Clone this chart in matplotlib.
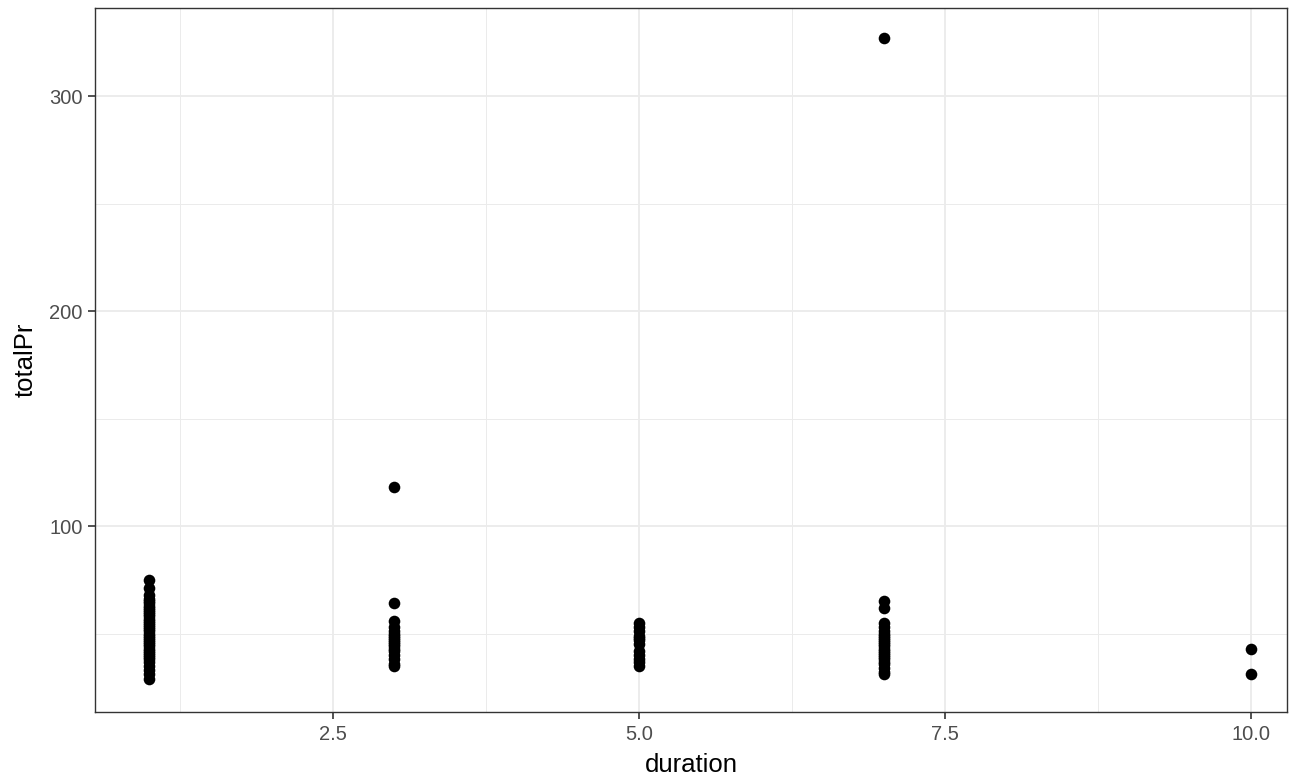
import matplotlib.pyplot as plt
from matplotlib.ticker import MultipleLocator

plt.rcParams['font.family'] = ['Liberation Sans', 'DejaVu Sans']

# totalPr values observed for each duration
dur1 = [75, 71, 68, 66, 65, 64, 63, 62, 61, 60, 59, 58, 57, 56, 55, 54, 53, 52,
        51, 50, 49, 48, 47, 46, 45, 44, 43, 42, 41, 40, 39, 38, 37, 35, 33, 31, 29]
dur3 = [118, 64, 56, 53, 51, 50, 49, 48, 47, 46, 45, 44, 43, 42, 40, 38, 36, 35]
dur5 = [55, 53, 51, 49, 48, 47, 45, 42, 40, 38, 37, 35]
dur7 = [327, 65, 62, 55, 53, 51, 50, 49, 48, 47, 46, 45, 44, 43, 42, 41, 40,
        39, 38, 37, 36, 34, 32, 31]
dur10 = [43, 31]

groups = {1: dur1, 3: dur3, 5: dur5, 7: dur7, 10: dur10}
duration = [d for d, vals in groups.items() for _ in vals]
totalPr = [v for vals in groups.values() for v in vals]

fig = plt.figure(figsize=(12.94, 7.81), dpi=100)
ax = fig.add_axes([0.0734, 0.0883, 0.9212, 0.9015])

ax.scatter(duration, totalPr, s=70, c='black', linewidths=0, zorder=3)

ax.set_xlim(0.556, 10.29)
ax.set_ylim(13.5, 341)

ax.xaxis.set_minor_locator(MultipleLocator(1.25))
ax.yaxis.set_major_locator(MultipleLocator(100))
ax.yaxis.set_minor_locator(MultipleLocator(50))
ax.set_xticks([2.5, 5.0, 7.5, 10.0])
ax.set_xticklabels(['2.5', '5.0', '7.5', '10.0'])

ax.grid(which='major', color='#ebebeb', lw=1.3, zorder=0)
ax.grid(which='minor', color='#ebebeb', lw=0.7, zorder=0)
ax.tick_params(which='minor', length=0)
ax.tick_params(which='major', length=5, width=1.2, color='#333333',
               labelcolor='#4d4d4d', labelsize=14.5, pad=4)
for sp in ax.spines.values():
    sp.set_color('#333333')
    sp.set_linewidth(1)

ax.set_xlabel('duration', fontsize=18.5, labelpad=7)
ax.set_ylabel('totalPr', fontsize=18.5, labelpad=8)

fig.savefig('out.png', dpi=100)
